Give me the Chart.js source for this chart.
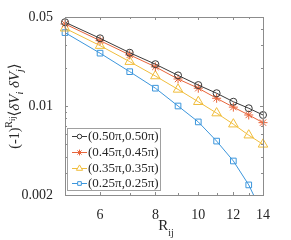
<!DOCTYPE html>
<html>
<head>
<meta charset="utf-8">
<script src="https://cdn.jsdelivr.net/npm/chart.js@4"></script>
<style>
  html, body { margin: 0; padding: 0; background: #fff; }
  #wrap { width: 291px; height: 240px; }
</style>
</head>
<body>
<div id="wrap"><canvas id="myChart" width="291" height="240"></canvas></div>
<script>
//  data
const r_values = [5, 6, 7, 8, 9, 10, 11, 12, 13, 14];
const series_labels = ['(0.50\u03c0,0.50\u03c0)', '(0.45\u03c0,0.45\u03c0)', '(0.35\u03c0,0.35\u03c0)', '(0.25\u03c0,0.25\u03c0)'];
const corr_050 = [0.0455, 0.0340, 0.0262, 0.0213, 0.0174, 0.0146, 0.0126, 0.0108, 0.0096, 0.0085];
const corr_045 = [0.0441, 0.0326, 0.0252, 0.0203, 0.0163, 0.0138, 0.0115, 0.0098, 0.0085, 0.0074];
const corr_035 = [0.0408, 0.0298, 0.0223, 0.0172, 0.0135, 0.0108, 0.0088, 0.0072, 0.0059, 0.0050];
const corr_025 = [0.0377, 0.0260, 0.0186, 0.0138, 0.0100, 0.0075, 0.0053, 0.0037, 0.0024, 0.0014];
const x_ticks = [5, 6, 7, 8, 9, 10, 11, 12, 13, 14];
const x_labels = [6, 8, 10, 12, 14];
const y_ticks = [0.002, 0.003, 0.004, 0.005, 0.006, 0.007, 0.008, 0.009, 0.01, 0.02, 0.03, 0.04, 0.05];
const y_labels = [0.002, 0.01, 0.05];

const serif = "'Liberation Serif', 'DejaVu Serif', serif";
const text_color = '#262626';
const axis_color = '#8c8c8c';

function make_points(values) {
  return r_values.map((r, i) => ({ x: r, y: values[i] }));
}

function make_dataset(label, values, color, style, radius) {
  return {
    label: label,
    data: make_points(values),
    borderColor: color,
    backgroundColor: color,
    borderWidth: 1,
    pointStyle: style,
    pointRadius: radius,
    pointBorderColor: color,
    pointBackgroundColor: 'rgba(0,0,0,0)',
    pointBorderWidth: 1,
    tension: 0,
    clip: { left: 6, right: 6, top: 6, bottom: 0 }
  };
}

// draws pieces of text one after another (sub/superscripts)
function draw_rich(ctx, pieces, x, y) {
  let total = 0;
  pieces.forEach(p => {
    ctx.font = `${p.italic ? 'italic ' : ''}${p.size}px ${serif}`;
    p.w = ctx.measureText(p.t).width;
    total += p.w;
  });
  let cx = x - total / 2;
  pieces.forEach(p => {
    ctx.font = `${p.italic ? 'italic ' : ''}${p.size}px ${serif}`;
    ctx.fillText(p.t, cx, y + (p.dy || 0));
    cx += p.w;
  });
}

//  box, inward ticks, titles, legend
const frame_plugin = {
  id: 'frame',
  afterDraw(chart) {
    const ctx = chart.ctx;
    const a = chart.chartArea;
    const xs = chart.scales.x;
    const ys = chart.scales.y;
    ctx.save();
    ctx.strokeStyle = axis_color;
    ctx.lineWidth = 1;
    ctx.strokeRect(Math.round(a.left) + 0.5, Math.round(a.top) + 0.5, Math.round(a.right - a.left), Math.round(a.bottom - a.top));
    ctx.beginPath();
    x_ticks.forEach(v => {
      const px = Math.round(xs.getPixelForValue(v)) + 0.5;
      const len = x_labels.includes(v) ? 3 : 2;
      ctx.moveTo(px, a.bottom); ctx.lineTo(px, a.bottom - len);
      ctx.moveTo(px, a.top); ctx.lineTo(px, a.top + len);
    });
    y_ticks.forEach(v => {
      const py = Math.round(ys.getPixelForValue(v)) + 0.5;
      const len = y_labels.includes(v) ? 3 : 2;
      ctx.moveTo(a.left, py); ctx.lineTo(a.left + len, py);
      ctx.moveTo(a.right, py); ctx.lineTo(a.right - len, py);
    });
    ctx.stroke();

    // x title
    ctx.fillStyle = text_color;
    ctx.textBaseline = 'alphabetic';
    ctx.textAlign = 'left';
    draw_rich(ctx, [
      { t: 'R', size: 15 },
      { t: 'ij', size: 10, dy: 6 }
    ], (a.left + a.right) / 2 + 2, 230);

    // y title
    ctx.save();
    ctx.translate(19, (a.top + a.bottom) / 2);
    ctx.rotate(-Math.PI / 2);
    draw_rich(ctx, [
      { t: '(-1)', size: 14 },
      { t: 'R', size: 10, dy: -7 },
      { t: 'ij', size: 8, dy: -4 },
      { t: '\u27e8', size: 15 },
      { t: '\u03b4V', size: 15, italic: true },
      { t: 'i', size: 10, italic: true, dy: 4 },
      { t: ' \u03b4V', size: 15, italic: true },
      { t: 'j', size: 10, italic: true, dy: 4 },
      { t: '\u27e9', size: 15 }
    ], 0, 0);
    ctx.restore();

    // legend
    const lx = 67, ly = 128, lw = 93, lh = 62;
    ctx.fillStyle = '#fff';
    ctx.fillRect(lx, ly, lw, lh);
    ctx.strokeStyle = '#a0a0a0';
    ctx.strokeRect(lx + 0.5, ly + 0.5, lw, lh);
    const rows = [136, 152, 167.5, 182.5];
    chart.data.datasets.forEach((ds, i) => {
      const y = rows[i];
      ctx.strokeStyle = ds.borderColor;
      ctx.lineWidth = 1;
      ctx.beginPath();
      ctx.moveTo(72, Math.round(y) + 0.5);
      ctx.lineTo(87, Math.round(y) + 0.5);
      ctx.stroke();
      ctx.fillStyle = '#fff';
      Chart.helpers.drawPoint(ctx, {
        pointStyle: ds.pointStyle,
        radius: ds.pointRadius * 0.65,
        borderWidth: 1,
        rotation: 0
      }, 79.5, Math.round(y) + 0.5);
      ctx.fillStyle = text_color;
      ctx.font = `13px ${serif}`;
      ctx.textBaseline = 'middle';
      ctx.textAlign = 'left';
      ctx.fillText(ds.label, 88, y + 1);
    });
    ctx.restore();
  }
};

const ctx = document.getElementById('myChart').getContext('2d');
const myChart = new Chart(ctx, {
  type: 'line',
  data: {
    datasets: [
      make_dataset(series_labels[0], corr_050, '#3a3a3a', 'circle', 3.5),
      make_dataset(series_labels[1], corr_045, '#e8643a', 'star', 4.5),
      make_dataset(series_labels[2], corr_035, '#f0bd3c', 'triangle', 5.5),
      make_dataset(series_labels[3], corr_025, '#3c96dc', 'rect', 4)
    ]
  },
  plugins: [frame_plugin],
  options: {
    responsive: false,
    animation: false,
    layout: { padding: { left: 0, right: 28, top: 17, bottom: 0 } },
    plugins: {
      legend: { display: false },
      tooltip: { enabled: false }
    },
    scales: {
      x: {
        type: 'logarithmic',
        min: 5,
        max: 14,
        afterBuildTicks: (scale) => { scale.ticks = x_ticks.map(v => ({ value: v })); },
        afterFit: (scale) => { scale.height = 45; },
        grid: { display: false },
        border: { display: false },
        ticks: {
          autoSkip: false,
          maxRotation: 0,
          padding: 4,
          color: text_color,
          font: { family: serif, size: 14 },
          callback: (v) => x_labels.includes(v) ? String(v) : ''
        }
      },
      y: {
        type: 'logarithmic',
        min: 0.002,
        max: 0.05,
        afterBuildTicks: (scale) => { scale.ticks = y_ticks.map(v => ({ value: v })); },
        afterFit: (scale) => { scale.width = 65; },
        grid: { display: false },
        border: { display: false },
        ticks: {
          autoSkip: false,
          padding: 4,
          color: text_color,
          font: { family: serif, size: 14 },
          callback: (v) => y_labels.includes(v) ? String(v) : ''
        }
      }
    }
  }
});
</script>
</body>
</html>
